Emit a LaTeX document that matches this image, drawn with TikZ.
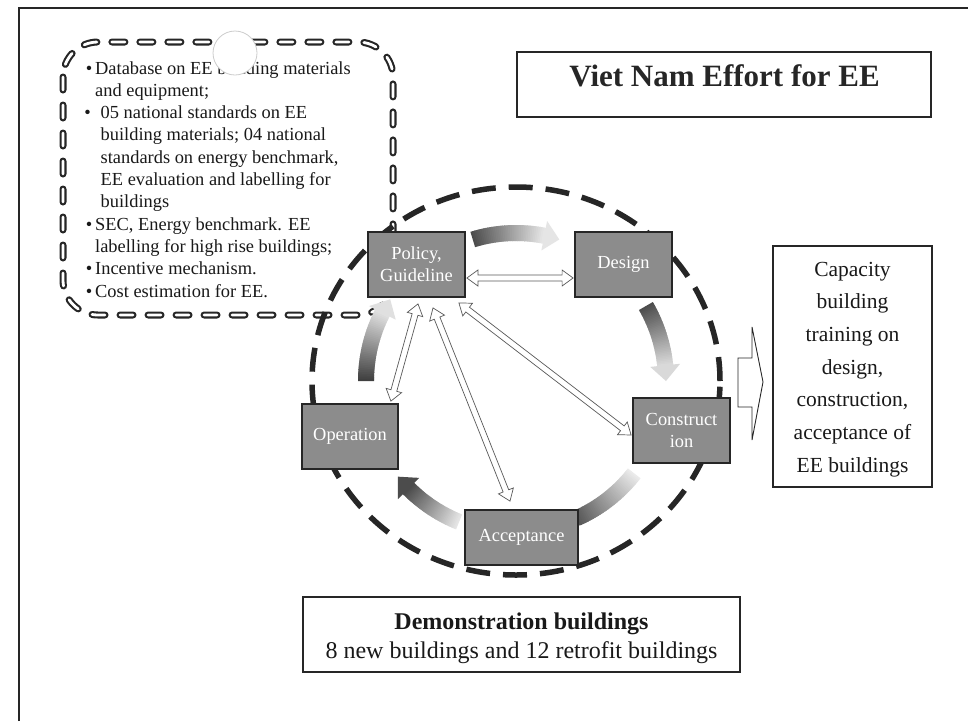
\documentclass[tikz,border=0pt]{standalone}
\usepackage{fontspec}
\setmainfont{Liberation Serif}
\usetikzlibrary{calc}
\pgfdeclarelayer{bg}
\pgfsetlayers{bg,main}
\newcommand{\fs}[2]{\fontsize{#1pt}{#2pt}\selectfont}
% hollow two-headed arrow between two named points
\newcommand{\hollowarr}[2]{%
  \draw[harrow] (#1) -- ($(#1)!11pt!(#2)!8pt!90:(#2)$) -- ($(#1)!11pt!(#2)!3pt!90:(#2)$)
   -- ($(#2)!11pt!(#1)!3pt!-90:(#1)$) -- ($(#2)!11pt!(#1)!8pt!-90:(#1)$) -- (#2)
   -- ($(#2)!11pt!(#1)!8pt!90:(#1)$) -- ($(#2)!11pt!(#1)!3pt!90:(#1)$)
   -- ($(#1)!11pt!(#2)!3pt!-90:(#2)$) -- ($(#1)!11pt!(#2)!8pt!-90:(#2)$) -- cycle;}
% shaded curved band around (ctr): start, end angle, start grey, end grey, radius
\newcommand{\gradband}[5]{%
  \foreach \k in {0,...,39}{%
    \pgfmathsetmacro{\aA}{(#1)+((#2)-(#1))*\k/40}%
    \pgfmathsetmacro{\aB}{(#1)+((#2)-(#1))*(\k+1.4)/40}%
    \pgfmathsetmacro{\rI}{(#5)-8}%
    \pgfmathsetmacro{\rO}{(#5)+8}%
    \pgfmathsetmacro{\gv}{(#3)+((#4)-(#3))*\k/39}%
    \fill[black!\gv] ($(ctr)+(\aA:\rI)$) -- ($(ctr)+(\aB:\rI)$) -- ($(ctr)+(\aB:\rO)$) -- ($(ctr)+(\aA:\rO)$) -- cycle;
  }}
% arrow head of a band: end angle, angular length, grey, radius
\newcommand{\gradhead}[4]{%
  \fill[black!#3] ($(ctr)+(#1:{#4-15})$) -- ($(ctr)+({#1+#2}:#4)$) -- ($(ctr)+(#1:{#4+15})$) -- cycle;}
\begin{document}
\begin{tikzpicture}[x=1pt,y=-1pt,
  gbox/.style={draw=black!85, line width=1.8pt, fill=black!45, text=white,
    font=\fs{18.4}{22}, align=center, inner sep=0pt},
  plainbox/.style={draw=black!85, inner sep=0pt},
  btxt/.style={anchor=base west, inner sep=0pt, font=\fs{18.4}{22.3}, text=black!90},
  ctxt/.style={anchor=base, inner sep=0pt, font=\fs{21.5}{32}, text=black!90},
  dtxt/.style={anchor=base, inner sep=0pt, font=\fs{24}{28}, text=black!90},
  harrow/.style={draw=black!65, line width=0.7pt, fill=white}]

\useasboundingbox (0,0) rectangle (968,721);

\coordinate (ctr) at (516,381);

% process boxes
\node[gbox, minimum width=97pt, minimum height=65pt] (pol) at (416.5,264.5) {Policy,\\Guideline};
\node[gbox, minimum width=97pt, minimum height=65pt] (des) at (623.5,264.5) {Design};
\node[gbox, minimum width=97pt, minimum height=65pt] (con) at (681.5,430.5) {Construct\\ion};
\node[gbox, minimum width=113pt, minimum height=55pt] (acc) at (521.5,537.5) {Acceptance};
\node[gbox, minimum width=96pt, minimum height=65pt] (ope) at (350,436.5) {Operation};

\begin{pgfonlayer}{bg}
  \fill[white] (0,0) rectangle (968,721);
  % outer frame
  \draw[line width=1.6pt, black!85] (19,721) -- (19,8) -- (968,8);
  % dashed rounded box
  \draw[rounded corners=35pt, line width=2.1pt, draw=black!85, double=white,
        double distance=2.8pt, dash pattern=on 13pt off 15pt, line cap=round]
        (63,42) rectangle (393,315);
  % big dashed ellipse
  \draw[line width=5.5pt, draw=black!85, dash pattern=on 24pt off 13pt]
        (ctr) ellipse [x radius=204pt, y radius=194pt];
  % shaded cycle arrows
  \gradband{-107}{-79}{70}{10}{148} \gradhead{-79}{6}{10}{148}
  \gradband{-30}{-6}{70}{15}{150}   \gradhead{-6}{6}{15}{150}
  \gradband{38}{66}{8}{65}{150}
  \gradband{112}{135}{10}{70}{152}  \gradhead{135}{6}{70}{152}
  \gradband{180}{207}{75}{12}{150}  \gradhead{207}{6}{12}{150}
\end{pgfonlayer}

% hollow two-headed arrows from Policy
\coordinate (pd1) at ($(pol.east)+(1,13.5)$);
\coordinate (pd2) at ($(des.west)+(-1,13.5)$);
\coordinate (po1) at ($(pol.south)+(1.5,6)$);
\coordinate (po2) at ($(ope.north east)+(-8,-2)$);
\coordinate (pa1) at ($(pol.south)+(16.5,10)$);
\coordinate (pa2) at ($(acc.north)+(-11.5,-8)$);
\coordinate (pc1) at ($(pol.south east)+(-7,5)$);
\coordinate (pc2) at ($(con.west)+(-1,4.5)$);
\hollowarr{pd1}{pd2}
\hollowarr{po1}{po2}
\hollowarr{pa1}{pa2}
\hollowarr{pc1}{pc2}

% bullet list
\node[btxt] (b1) at (95,74) {\llap{\textbullet\hspace{3pt}}Database on EE building materials};
\node[btxt] (b2) at (95,96.3) {and equipment;};
\node[btxt] (b3) at (100.5,118.6) {\llap{\textbullet\hspace{10pt}}05 national standards on EE};
\node[btxt] (b4) at (100.5,140.9) {building materials; 04 national};
\node[btxt] (b5) at (100.5,163.2) {standards on energy benchmark,};
\node[btxt] (b6) at (100.5,185.5) {EE evaluation and labelling for};
\node[btxt] (b7) at (100.5,207.8) {buildings};
\node[btxt] (b8) at (95,230.1) {\llap{\textbullet\hspace{3pt}}SEC, Energy benchmark. EE};
\node[btxt] (b9) at (95,252.4) {labelling for high rise buildings;};
\node[btxt] (b10) at (95,274.7) {\llap{\textbullet\hspace{3pt}}Incentive mechanism.};
\node[btxt] (b11) at (95,297) {\llap{\textbullet\hspace{3pt}}Cost estimation for EE.};

% white disc over the list
\draw[black!20, line width=0.8pt, fill=white] (235,53) circle [radius=22pt];

% title
\node[plainbox, line width=1.8pt, minimum width=414pt, minimum height=65pt] (tbox) at (724,84.5) {};
\node[anchor=base, inner sep=0pt, font=\fs{31}{36}\bfseries, text=black!85] (ttl) at (724.5,86) {Viet Nam Effort for EE};

% capacity building box
\node[plainbox, line width=2.2pt, minimum width=159pt, minimum height=241pt] (cap) at (852.5,366.5) {};
\foreach \t [count=\i] in {Capacity, building, training on, {design,}, {construction,}, acceptance of, EE buildings}
  \node[ctxt] (c\i) at (852.5,{276+32.7*(\i-1)}) {\t};

% block arrow towards capacity box
\draw[black!85, line width=0.9pt, fill=white]
  (738,358) -- (752,358) -- (752,327) -- (763,382) -- (752,440) -- (752,407) -- (738,407) -- cycle;

% demonstration box
\node[plainbox, line width=2.4pt, minimum width=437pt, minimum height=75pt] (demo) at (521.5,634.5) {};
\node[dtxt, font=\fs{24}{28}\bfseries] (d1) at (521.5,629) {Demonstration buildings};
\node[dtxt] (d2) at (521.5,658) {8 new buildings and 12 retrofit buildings};
\end{tikzpicture}
\end{document}
